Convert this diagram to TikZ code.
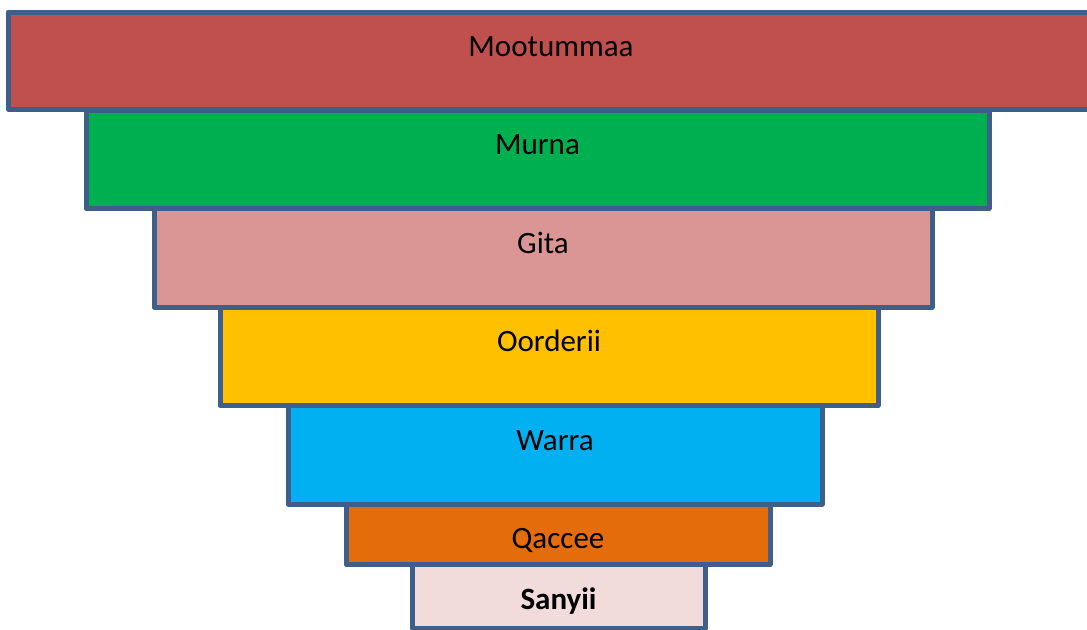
\documentclass[tikz,border=0pt]{standalone}
\usepackage{fontspec}
\setmainfont{Carlito}
\usepackage{tikz}
\usetikzlibrary{positioning}
\definecolor{outline}{RGB}{62,95,138}
\definecolor{layerred}{RGB}{192,80,77}
\definecolor{layergreen}{RGB}{0,176,80}
\definecolor{layerpink}{RGB}{217,150,148}
\definecolor{layeramber}{RGB}{255,192,0}
\definecolor{layersky}{RGB}{0,176,240}
\definecolor{layerorange}{RGB}{228,108,10}
\definecolor{layerrose}{RGB}{242,220,219}

\tikzset{
    layer/.style={rectangle,draw=outline,line width=2.5pt,line join=round,inner sep=0pt},
    lbl/.style={font=\fontsize{15.5}{18}\selectfont,inner sep=0pt,text height=10pt,text depth=0pt}
}

\begin{document}
\begin{tikzpicture}[x=0.5pt,y=-0.5pt]
    \useasboundingbox (0,0) rectangle (1087,629);

    % Mootummaa
    \node[layer,fill=layerred,minimum width=543pt,minimum height=48.5pt] (moot) at (551,60.5) {};
    \node[lbl] at (moot.north) [below=13.5pt] {Mootummaa};

    % Murna
    \node[layer,fill=layergreen,minimum width=451.5pt,minimum height=49.25pt] (murna) at (537.5,159.25) {};
    \node[lbl] at (murna.north) [below=13.5pt] {Murna};

    % Gita
    \node[layer,fill=layerpink,minimum width=389pt,minimum height=49.25pt] (gita) at (543,257.75) {};
    \node[lbl] at (gita.north) [below=13.5pt] {Gita};

    % Oorderii
    \node[layer,fill=layeramber,minimum width=329pt,minimum height=49.25pt] (oord) at (549,356.25) {};
    \node[lbl] at (oord.north) [below=13.5pt] {Oorderii};

    % Warra
    \node[layer,fill=layersky,minimum width=267pt,minimum height=49.25pt] (warra) at (555,454.75) {};
    \node[lbl] at (warra.north) [below=13.5pt] {Warra};

    % Qaccee
    \node[layer,fill=layerorange,minimum width=212pt,minimum height=30.25pt] (qaccee) at (558,534.25) {};
    \node[lbl] at (qaccee.north) [below=13.5pt] {Qaccee};

    % Sanyii
    \node[layer,fill=layerrose,minimum width=146.5pt,minimum height=31.75pt] (sanyii) at (558.5,596.25) {};
    \node[lbl,font=\fontsize{15.5}{18}\selectfont\bfseries] at (sanyii.north) [below=13.5pt] {Sanyii};
\end{tikzpicture}
\end{document}
